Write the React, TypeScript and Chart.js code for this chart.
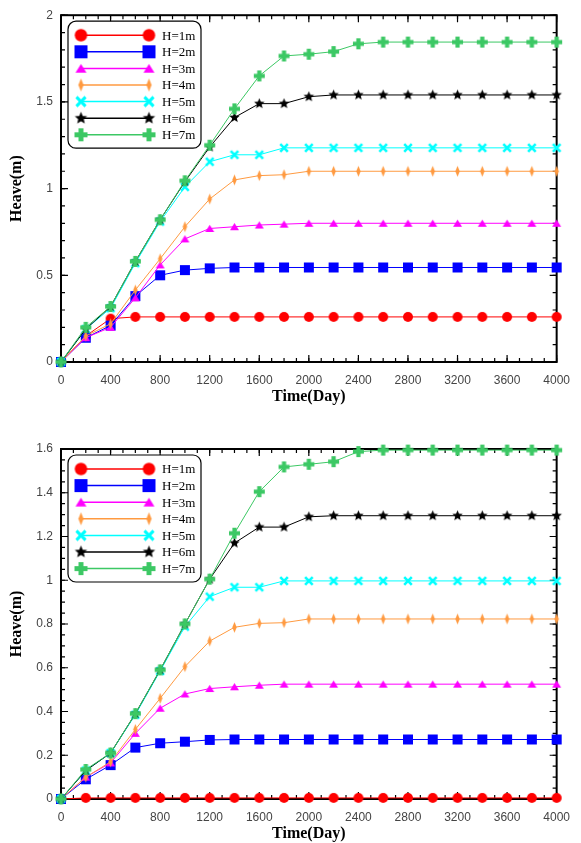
import { useEffect, useRef } from 'react';
import { Chart, registerables } from 'chart.js';

Chart.register(...registerables);

// Sampling times (days)
const DAYS = [0, 200, 400, 600, 800, 1000, 1200, 1400, 1600, 1800, 2000, 2200, 2400, 2600, 2800, 3000, 3200, 3400, 3600, 3800, 4000];

const SERIES_LABELS = ['H=1m', 'H=2m', 'H=3m', 'H=4m', 'H=5m', 'H=6m', 'H=7m'];
const SERIES_COLORS = ['#ff0000', '#0000ff', '#ff00ff', '#ff9a40', '#00ffff', '#000000', '#3cc864'];
const SERIES_SHAPES = ['circle', 'square', 'triangle', 'diamond', 'x', 'star', 'plus'];

// Upper panel: heave (m)
const TOP_H1 = [0, 0.15, 0.25, 0.26, 0.26, 0.26, 0.26, 0.26, 0.26, 0.26, 0.26, 0.26, 0.26, 0.26, 0.26, 0.26, 0.26, 0.26, 0.26, 0.26, 0.26];
const TOP_H2 = [0, 0.14, 0.21, 0.38, 0.5, 0.53, 0.54, 0.545, 0.545, 0.545, 0.545, 0.545, 0.545, 0.545, 0.545, 0.545, 0.545, 0.545, 0.545, 0.545, 0.545];
const TOP_H3 = [0, 0.14, 0.2, 0.37, 0.56, 0.71, 0.77, 0.78, 0.79, 0.795, 0.8, 0.8, 0.8, 0.8, 0.8, 0.8, 0.8, 0.8, 0.8, 0.8, 0.8];
const TOP_H4 = [0, 0.15, 0.22, 0.415, 0.595, 0.78, 0.94, 1.05, 1.075, 1.08, 1.1, 1.1, 1.1, 1.1, 1.1, 1.1, 1.1, 1.1, 1.1, 1.1, 1.1];
const TOP_H5 = [0, 0.19, 0.31, 0.57, 0.81, 1.01, 1.155, 1.195, 1.195, 1.235, 1.235, 1.235, 1.235, 1.235, 1.235, 1.235, 1.235, 1.235, 1.235, 1.235, 1.235];
const TOP_H6 = [0, 0.19, 0.32, 0.58, 0.82, 1.04, 1.24, 1.41, 1.49, 1.49, 1.53, 1.54, 1.54, 1.54, 1.54, 1.54, 1.54, 1.54, 1.54, 1.54, 1.54];
const TOP_H7 = [0, 0.2, 0.32, 0.58, 0.82, 1.045, 1.25, 1.46, 1.65, 1.765, 1.775, 1.79, 1.835, 1.845, 1.845, 1.845, 1.845, 1.845, 1.845, 1.845, 1.845];

// Lower panel: heave (m)
const BOT_H1 = [0, 0.005, 0.005, 0.005, 0.005, 0.005, 0.005, 0.005, 0.005, 0.005, 0.005, 0.005, 0.005, 0.005, 0.005, 0.005, 0.005, 0.005, 0.005, 0.005, 0.005];
const BOT_H2 = [0, 0.09, 0.155, 0.235, 0.255, 0.262, 0.27, 0.272, 0.272, 0.272, 0.272, 0.272, 0.272, 0.272, 0.272, 0.272, 0.272, 0.272, 0.272, 0.272, 0.272];
const BOT_H3 = [0, 0.1, 0.165, 0.3, 0.415, 0.48, 0.505, 0.513, 0.52, 0.525, 0.525, 0.525, 0.525, 0.525, 0.525, 0.525, 0.525, 0.525, 0.525, 0.525, 0.525];
const BOT_H4 = [0, 0.1, 0.17, 0.318, 0.46, 0.605, 0.722, 0.785, 0.803, 0.806, 0.823, 0.823, 0.823, 0.823, 0.823, 0.823, 0.823, 0.823, 0.823, 0.823, 0.823];
const BOT_H5 = [0, 0.13, 0.21, 0.385, 0.585, 0.788, 0.925, 0.968, 0.968, 0.997, 0.997, 0.997, 0.997, 0.997, 0.997, 0.997, 0.997, 0.997, 0.997, 0.997, 0.997];
const BOT_H6 = [0, 0.13, 0.21, 0.39, 0.59, 0.8, 1.005, 1.17, 1.243, 1.243, 1.29, 1.295, 1.295, 1.295, 1.295, 1.295, 1.295, 1.295, 1.295, 1.295, 1.295];
const BOT_H7 = [0, 0.135, 0.21, 0.39, 0.59, 0.8, 1.005, 1.215, 1.405, 1.518, 1.53, 1.542, 1.588, 1.595, 1.595, 1.595, 1.595, 1.595, 1.595, 1.595, 1.595];

const TOP_SERIES = [TOP_H1, TOP_H2, TOP_H3, TOP_H4, TOP_H5, TOP_H6, TOP_H7];
const BOT_SERIES = [BOT_H1, BOT_H2, BOT_H3, BOT_H4, BOT_H5, BOT_H6, BOT_H7];

const X_TITLE = 'Time(Day)';
const Y_TITLE = 'Heave(m)';

// Builds a small bitmap used as a point marker.
function makeMarker(shape: string, color: string, s: number): HTMLCanvasElement {
  const c = document.createElement('canvas');
  const dim = Math.ceil(s + 4);
  c.width = dim;
  c.height = dim;
  const g = c.getContext('2d')!;
  g.translate(dim / 2, dim / 2);
  g.fillStyle = color;
  g.strokeStyle = color;
  g.beginPath();
  switch (shape) {
    case 'circle':
      g.arc(0, 0, s / 2, 0, Math.PI * 2);
      g.fill();
      break;
    case 'square':
      g.fillRect(-s / 2, -s / 2, s, s);
      break;
    case 'triangle':
      g.moveTo(0, -s * 0.42);
      g.lineTo(s / 2, s * 0.38);
      g.lineTo(-s / 2, s * 0.38);
      g.closePath();
      g.fill();
      break;
    case 'diamond':
      g.moveTo(0, -s / 2);
      g.lineTo(s * 0.2, 0);
      g.lineTo(0, s / 2);
      g.lineTo(-s * 0.2, 0);
      g.closePath();
      g.fill();
      break;
    case 'x': {
      const h = s / 2 - s * 0.12;
      g.lineWidth = s * 0.26;
      g.moveTo(-h, -h);
      g.lineTo(h, h);
      g.moveTo(h, -h);
      g.lineTo(-h, h);
      g.stroke();
      break;
    }
    case 'star': {
      const ro = s / 2;
      const ri = ro * 0.45;
      for (let k = 0; k < 10; k++) {
        const r = k % 2 === 0 ? ro : ri;
        const a = -Math.PI / 2 + (k * Math.PI) / 5;
        if (k === 0) g.moveTo(r * Math.cos(a), r * Math.sin(a));
        else g.lineTo(r * Math.cos(a), r * Math.sin(a));
      }
      g.closePath();
      g.fill();
      break;
    }
    case 'plus': {
      const t = s * 0.38;
      g.fillRect(-s / 2, -t / 2, s, t);
      g.fillRect(-t / 2, -s / 2, t, s);
      break;
    }
  }
  return c;
}

const PLOT_SIZES: Record<string, number> = { circle: 10, square: 10, triangle: 9, diamond: 11, x: 10, star: 11, plus: 11 };
const LEGEND_SIZES: Record<string, number> = { circle: 12.5, square: 13, triangle: 11, diamond: 13, x: 12, star: 13, plus: 13 };

// Frame, inward ticks, axis titles and a two-marker legend.
const decorPlugin = {
  id: 'decor',
  beforeDatasetsDraw(chart: any, _args: any, opts: any) {
    const { ctx, chartArea: a } = chart;
    const xs = chart.scales.x;
    const ys = chart.scales.y;
    ctx.save();
    ctx.strokeStyle = '#000';
    ctx.lineWidth = 1.2;
    const tick = (vals: number[], major: boolean, axis: 'x' | 'y') => {
      const len = major ? 7 : 4;
      ctx.beginPath();
      for (const v of vals) {
        if (axis === 'x') {
          const px = xs.getPixelForValue(v);
          ctx.moveTo(px, a.bottom);
          ctx.lineTo(px, a.bottom - len);
          ctx.moveTo(px, a.top);
          ctx.lineTo(px, a.top + len);
        } else {
          const py = ys.getPixelForValue(v);
          ctx.moveTo(a.left, py);
          ctx.lineTo(a.left + len, py);
          ctx.moveTo(a.right, py);
          ctx.lineTo(a.right - len, py);
        }
      }
      ctx.stroke();
    };
    const xMajor = xs.ticks.map((t: any) => t.value);
    const yMajor = ys.ticks.map((t: any) => t.value);
    const xMinor: number[] = [];
    for (let i = 0; xs.min + i * opts.xMinor <= xs.max + 1e-9; i++) xMinor.push(xs.min + i * opts.xMinor);
    const yMinor: number[] = [];
    for (let i = 0; ys.min + i * opts.yMinor <= ys.max + 1e-9; i++) yMinor.push(ys.min + i * opts.yMinor);
    tick(xMinor, false, 'x');
    tick(yMinor, false, 'y');
    tick(xMajor, true, 'x');
    tick(yMajor, true, 'y');

    ctx.lineWidth = 2;
    ctx.strokeRect(a.left, a.top, a.right - a.left, a.bottom - a.top);

    ctx.fillStyle = '#000';
    ctx.font = 'bold 16px "Liberation Serif"';
    ctx.textAlign = 'center';
    ctx.textBaseline = 'middle';
    ctx.fillText(X_TITLE, (a.left + a.right) / 2, a.bottom + 35);
    ctx.save();
    ctx.translate(a.left - 44, (a.top + a.bottom) / 2);
    ctx.rotate(-Math.PI / 2);
    ctx.fillText(Y_TITLE, 0, 0);
    ctx.restore();
    ctx.restore();
  },
  afterDatasetsDraw(chart: any) {
    const { ctx, chartArea: a } = chart;
    const bx = a.left + 7;
    const by = a.top + 6;
    const bw = 133;
    const bh = 127;
    ctx.save();
    ctx.beginPath();
    ctx.roundRect(bx, by, bw, bh, 8);
    ctx.fillStyle = '#fff';
    ctx.fill();
    ctx.strokeStyle = '#000';
    ctx.lineWidth = 1.2;
    ctx.stroke();
    chart.data.datasets.forEach((ds: any, i: number) => {
      const y = by + 14 + i * 16.6;
      const x1 = bx + 13;
      const x2 = bx + 81;
      ctx.beginPath();
      ctx.strokeStyle = ds.borderColor;
      ctx.lineWidth = 1.5;
      ctx.moveTo(x1, y);
      ctx.lineTo(x2, y);
      ctx.stroke();
      const m = ds.legendMarker as HTMLCanvasElement;
      ctx.drawImage(m, x1 - m.width / 2, y - m.height / 2);
      ctx.drawImage(m, x2 - m.width / 2, y - m.height / 2);
      ctx.fillStyle = '#000';
      ctx.font = '13px "Liberation Serif"';
      ctx.textAlign = 'left';
      ctx.textBaseline = 'middle';
      ctx.fillText(ds.label, bx + 94, y + 1);
    });
    ctx.restore();
  },
};

const plainNumber = (v: any) => String(Number(Number(v).toFixed(2)));

function buildConfig(series: number[][], yMax: number, yStep: number, yMinor: number, padTop: number, padBottom: number) {
  const datasets = series.map((vals, i) => {
    const shape = SERIES_SHAPES[i];
    return {
      label: SERIES_LABELS[i],
      data: DAYS.map((d, k) => ({ x: d, y: vals[k] })),
      borderColor: SERIES_COLORS[i],
      backgroundColor: SERIES_COLORS[i],
      borderWidth: 1,
      pointStyle: makeMarker(shape, SERIES_COLORS[i], PLOT_SIZES[shape]),
      legendMarker: makeMarker(shape, SERIES_COLORS[i], LEGEND_SIZES[shape]),
      pointRadius: 6,
      tension: 0,
      clip: false,
      order: SERIES_LABELS.length - 1 - i,
    };
  });
  const tickFont = { family: '"Liberation Sans", Arial, sans-serif', size: 12 };
  return {
    type: 'line' as const,
    data: { datasets },
    plugins: [decorPlugin],
    options: {
      responsive: false,
      animation: false as const,
      devicePixelRatio: 1,
      layout: { padding: { left: 11, right: 16, top: padTop, bottom: padBottom } },
      plugins: {
        legend: { display: false },
        tooltip: { enabled: false },
        decor: { xMinor: 100, yMinor },
      },
      scales: {
        x: {
          type: 'linear' as const,
          min: 0,
          max: 4000,
          ticks: { stepSize: 400, padding: 11, color: '#444', font: tickFont, maxRotation: 0, autoSkip: false, callback: plainNumber },
          grid: { display: false, drawTicks: false },
          border: { display: false },
          afterFit: (s: any) => { s.height = 40; },
        },
        y: {
          type: 'linear' as const,
          min: 0,
          max: yMax,
          ticks: { stepSize: yStep, padding: 8, color: '#444', font: tickFont, callback: plainNumber },
          grid: { display: false, drawTicks: false },
          border: { display: false },
          afterFit: (s: any) => { s.width = 50; },
        },
      },
    },
  };
}

function Panel({ series, yMax, yStep, yMinor, top, height, padTop, padBottom }: any) {
  const ref = useRef<HTMLCanvasElement>(null);
  useEffect(() => {
    const chart = new Chart(ref.current!, buildConfig(series, yMax, yStep, yMinor, padTop, padBottom) as any);
    return () => chart.destroy();
  }, []);
  return (
    <canvas
      ref={ref}
      width={581}
      height={height}
      style={{ position: 'absolute', left: 0, top, width: 581, height, display: 'block' }}
    />
  );
}

export default function App() {
  return (
    <div style={{ position: 'absolute', left: 0, top: 0, width: 581, height: 843, background: '#fff' }}>
      <Panel series={TOP_SERIES} yMax={2} yStep={0.5} yMinor={0.1} top={0} height={415} padTop={12} padBottom={13} />
      <Panel series={BOT_SERIES} yMax={1.6} yStep={0.2} yMinor={0.05} top={415} height={428} padTop={34} padBottom={4} />
    </div>
  );
}
